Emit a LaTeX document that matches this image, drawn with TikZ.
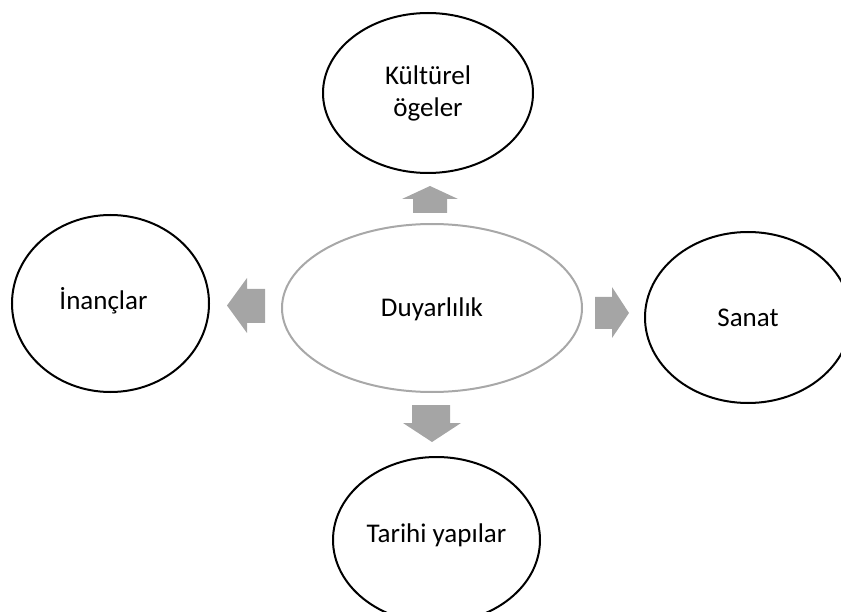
\documentclass[tikz,border=0pt]{standalone}
\usepackage{fontspec}
\setmainfont{Carlito}
\usetikzlibrary{shapes.geometric}
\definecolor{arrowgray}{RGB}{165,165,165}
\definecolor{rimgray}{RGB}{168,168,168}
\begin{document}
\begin{tikzpicture}[x=1pt,y=-1pt,
  bubbase/.style={ellipse, draw=black, line width=2pt, inner sep=0pt, align=center,
    font=\fontsize{27}{32}\selectfont},
  bub/.style={bubbase, text height=17.4pt, text depth=0pt},
  hub/.style={bub, draw=rimgray},
  blockarrow/.style={fill=arrowgray, draw=none}]
\useasboundingbox (0,0) rectangle (841,612);
\clip (0,0) rectangle (841,612);
% centre
\node[hub, minimum width=300pt, minimum height=168pt] (duy) at (432,308) {Duyarlılık};
% outer ellipses
\node[bubbase, minimum width=210pt, minimum height=160pt] (kul) at (428,93) {Kültürel\\ögeler};
\node[bub, minimum width=197pt, minimum height=177pt] (inc) at (110.5,303.5) {\raisebox{3pt}{İnançlar}\hspace*{14pt}};
\node[bub, minimum width=206pt, minimum height=171pt] (san) at (748,317.5) {Sanat};
\node[bub, minimum width=207pt, minimum height=166pt] (tar) at (436.5,540) {\raisebox{6pt}{Tarihi yapılar}};
% block arrows
\fill[blockarrow] (413,213) -- (413,199) -- (402,199) -- (430,186) -- (458,199) -- (447,199) -- (447,213) -- cycle;
\fill[blockarrow] (265,289) -- (247,289) -- (247,278) -- (227,305.5) -- (247,333) -- (247,323) -- (265,323) -- cycle;
\fill[blockarrow] (595,297) -- (612,297) -- (612,287) -- (629,313) -- (612,338) -- (612,329) -- (595,329) -- cycle;
\fill[blockarrow] (412,405) -- (450,405) -- (450,423) -- (461,423) -- (432,442) -- (403,423) -- (412,423) -- cycle;
\end{tikzpicture}
\end{document}
